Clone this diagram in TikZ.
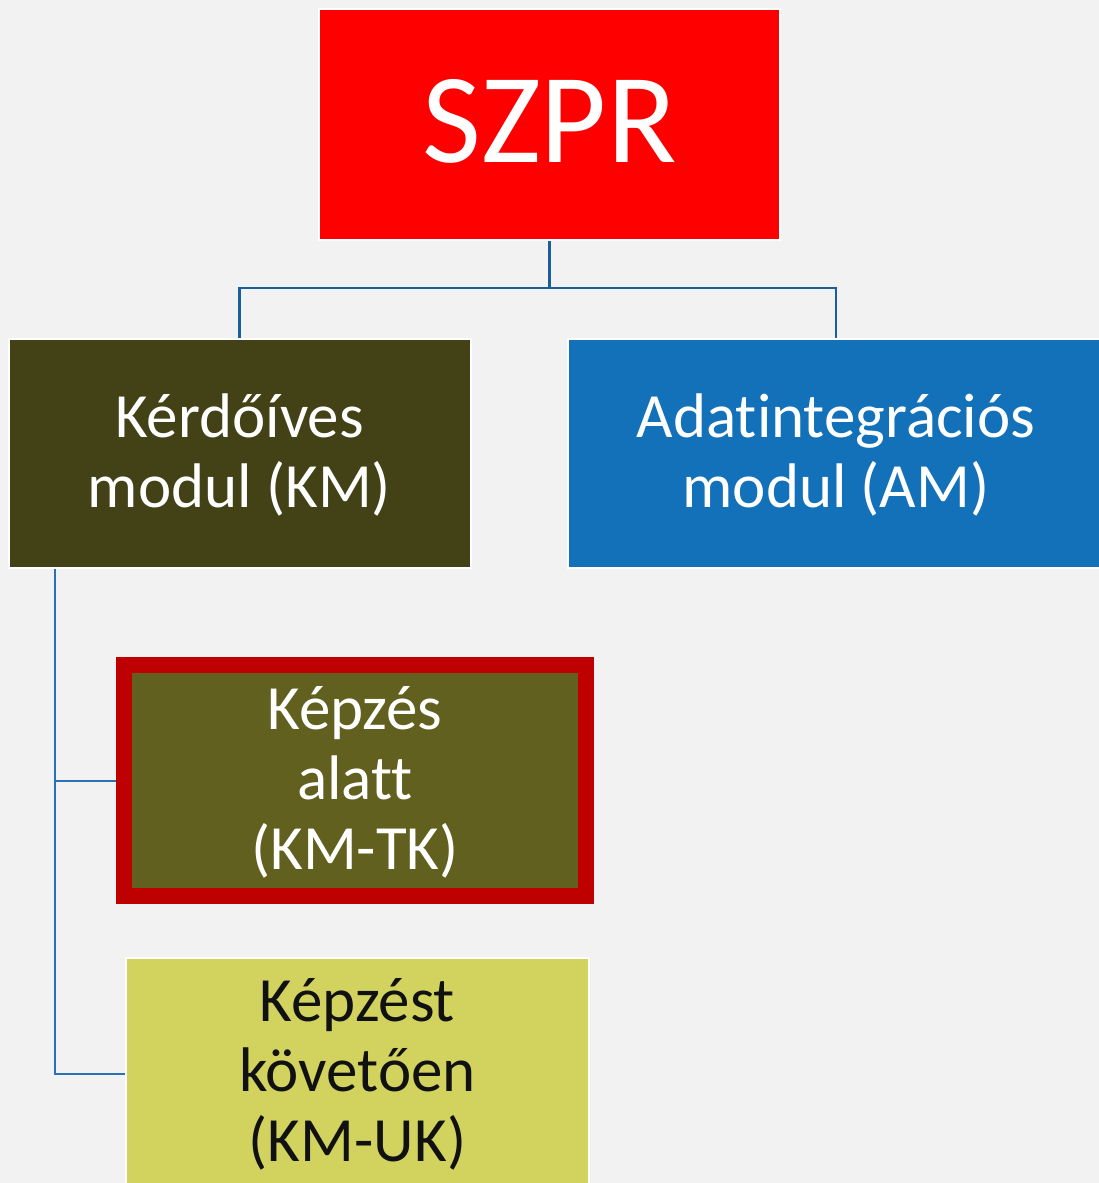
\documentclass[tikz,border=0pt]{standalone}
\usepackage{fontspec}
\setmainfont{Carlito}[Ligatures={NoCommon}]
\definecolor{bg}{HTML}{F2F2F2}
\definecolor{szred}{HTML}{FF0000}
\definecolor{kmfill}{HTML}{434116}
\definecolor{amfill}{HTML}{1271B8}
\definecolor{tkfill}{HTML}{61601E}
\definecolor{tkborder}{HTML}{BF0000}
\definecolor{ukfill}{HTML}{D2D35F}
\definecolor{linktop}{HTML}{1B5E9C}
\definecolor{linkleft}{HTML}{2A72B5}
\definecolor{darktext}{HTML}{111111}
\tikzset{
  box/.style={rectangle, inner sep=0pt, draw=white, line width=2pt},
  txt/.style={anchor=base, inner sep=0pt, text=white, font=\fontsize{63}{70}\selectfont},
  bigtxt/.style={anchor=base, inner sep=0pt, text=white, font=\fontsize{128}{140}\selectfont},
  linkA/.style={draw=linktop, line width=2.4pt},
  linkB/.style={draw=linkleft, line width=2pt}
}
\begin{document}
\begin{tikzpicture}[x=1pt, y=-1pt]
\useasboundingbox (0,0) rectangle (1099,1183);
\fill[bg] (0,0) rectangle (1099,1183);

% boxes
\node[box, fill=szred, minimum width=461pt, minimum height=231pt] (szpr) at (549.5,124.5) {};
\node[box, fill=kmfill, minimum width=462pt, minimum height=229pt] (km) at (239.5,453.5) {};
\node[box, fill=amfill, minimum width=536pt, minimum height=229pt] (am) at (836,453.5) {};
\node[box, fill=ukfill, minimum width=463pt, minimum height=231pt] (kmuk) at (357.5,1073.5) {};
\node[rectangle, inner sep=0pt, draw=tkborder, line width=16pt, fill=tkfill, minimum width=462pt, minimum height=231pt] (kmtk) at (355,780.5) {};

% connectors
\coordinate (hub) at (549.5,288);
\coordinate (trunk) at (55,569);
\draw[linkA] (szpr.south) -- (hub) -| (km.north);
\draw[linkA] (hub) -| (am.north);
\draw[linkB] (trunk) |- (kmtk.west);
\draw[linkB] (trunk) |- (kmuk.west);

% texts
\node[bigtxt] (szpr-t) at (549.5,162) {SZPR};
\node[txt] (km-t1) at (239.5,437) {Kérdőíves};
\node[txt] (km-t2) at (239.5,507) {modul (KM)};
\node[txt] (am-t1) at (836,437) {Adatintegrációs};
\node[txt] (am-t2) at (836,507) {modul (AM)};
\node[txt] (tk-t1) at (355,729) {Képzés};
\node[txt] (tk-t2) at (355,799) {alatt};
\node[txt] (tk-t3) at (355,869) {(KM-TK)};
\node[txt, text=darktext] (uk-t1) at (357.5,1021) {Képzést};
\node[txt, text=darktext] (uk-t2) at (357.5,1091) {követően};
\node[txt, text=darktext] (uk-t3) at (357.5,1161) {(KM-UK)};
\end{tikzpicture}
\end{document}
